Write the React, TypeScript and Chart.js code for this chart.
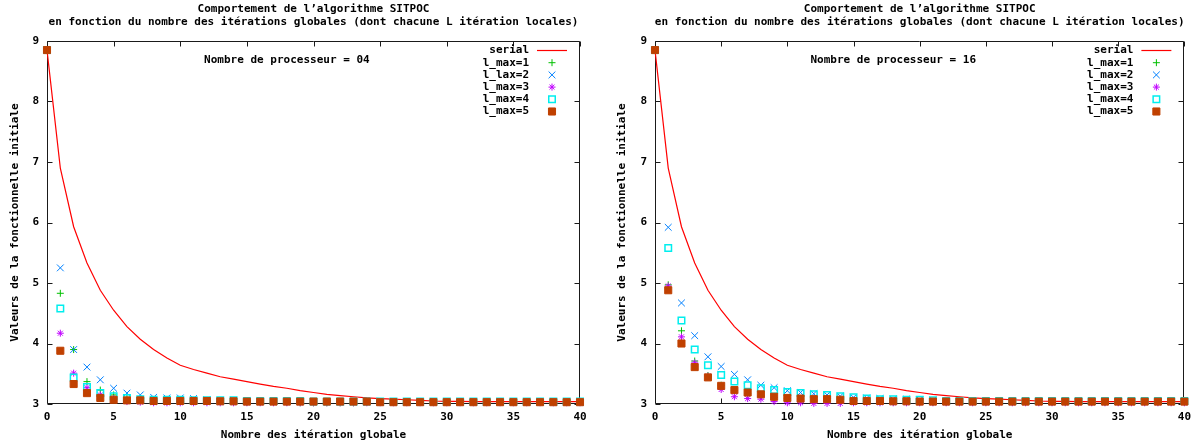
import React, { useEffect, useRef } from 'react';
import { Chart, registerables } from 'chart.js';
import { drawPoint } from 'chart.js/helpers';

Chart.register(...registerables);

const FONT_FAMILY = '"DejaVu Sans Mono", "Liberation Mono", monospace';

const iterations = [
  0, 1, 2, 3, 4, 5, 6, 7, 8, 9, 10, 11, 12, 13, 14, 15, 16, 17, 18, 19, 20,
  21, 22, 23, 24, 25, 26, 27, 28, 29, 30, 31, 32, 33, 34, 35, 36, 37, 38, 39, 40,
];

const serial = [
  8.85, 6.9, 5.93, 5.33, 4.88, 4.55, 4.28, 4.07, 3.9, 3.76, 3.64, 3.57, 3.51, 3.45, 3.41, 3.37,
  3.33, 3.29, 3.26, 3.22, 3.19, 3.16, 3.14, 3.12, 3.1, 3.09, 3.08, 3.07, 3.06, 3.05, 3.045,
  3.045, 3.04, 3.04, 3.04, 3.04, 3.04, 3.04, 3.04, 3.04, 3.04,
];

// Nombre de processeur = 04
const p04_lmax1 = [
  8.85, 4.83, 3.9, 3.37, 3.23, 3.15, 3.1, 3.08, 3.07, 3.06, 3.05, 3.05, 3.04, 3.04, 3.04, 3.03,
  3.03, 3.03, 3.03, 3.02, 3.02, 3.02, 3.02, 3.02, 3.03, 3.03, 3.03, 3.03, 3.03, 3.03, 3.03,
  3.03, 3.03, 3.03, 3.03, 3.03, 3.03, 3.03, 3.03, 3.03, 3.03,
];
const p04_lmax2 = [
  8.85, 5.25, 3.9, 3.61, 3.4, 3.26, 3.18, 3.15, 3.11, 3.1, 3.1, 3.09, 3.07, 3.06, 3.06, 3.05,
  3.05, 3.05, 3.04, 3.04, 3.04, 3.04, 3.035, 3.035, 3.035, 3.035, 3.035, 3.035, 3.035, 3.035,
  3.035, 3.035, 3.035, 3.035, 3.035, 3.035, 3.035, 3.035, 3.035, 3.035, 3.035,
];
const p04_lmax3 = [
  8.85, 4.17, 3.51, 3.27, 3.15, 3.09, 3.04, 3.03, 3.02, 3.02, 3.02, 3.02, 3.02, 3.02, 3.02, 3.02,
  3.02, 3.02, 3.02, 3.02, 3.02, 3.02, 3.02, 3.02, 3.02, 3.02, 3.02, 3.02, 3.02, 3.02, 3.02,
  3.02, 3.02, 3.02, 3.02, 3.02, 3.02, 3.02, 3.02, 3.02, 3.02,
];
const p04_lmax4 = [
  8.85, 4.58, 3.44, 3.28, 3.18, 3.13, 3.1, 3.08, 3.07, 3.07, 3.07, 3.06, 3.06, 3.06, 3.06, 3.05,
  3.05, 3.05, 3.05, 3.05, 3.04, 3.04, 3.04, 3.04, 3.04, 3.04, 3.04, 3.04, 3.04, 3.04, 3.04,
  3.04, 3.04, 3.04, 3.04, 3.04, 3.04, 3.04, 3.04, 3.04, 3.04,
];
const p04_lmax5 = [
  8.85, 3.88, 3.33, 3.18, 3.1, 3.07, 3.06, 3.06, 3.05, 3.05, 3.05, 3.05, 3.05, 3.045, 3.045, 3.04,
  3.04, 3.04, 3.04, 3.04, 3.04, 3.04, 3.04, 3.04, 3.04, 3.03, 3.03, 3.03, 3.03, 3.03, 3.03,
  3.03, 3.03, 3.03, 3.03, 3.03, 3.03, 3.03, 3.03, 3.03, 3.03,
];

// Nombre de processeur = 16
const p16_lmax1 = [
  8.85, 4.97, 4.21, 3.71, 3.47, 3.31, 3.22, 3.17, 3.13, 3.11, 3.09, 3.08, 3.07, 3.06, 3.04, 3.035,
  3.035, 3.035, 3.035, 3.035, 3.03, 3.03, 3.03, 3.03, 3.03, 3.03, 3.03, 3.03, 3.03, 3.03, 3.03,
  3.03, 3.03, 3.03, 3.03, 3.03, 3.03, 3.03, 3.03, 3.03, 3.03,
];
const p16_lmax2 = [
  8.85, 5.92, 4.67, 4.13, 3.78, 3.62, 3.49, 3.4, 3.31, 3.27, 3.22, 3.19, 3.17, 3.15, 3.13, 3.11,
  3.1, 3.09, 3.08, 3.08, 3.07, 3.06, 3.055, 3.05, 3.05, 3.045, 3.04, 3.04, 3.04, 3.04, 3.04,
  3.04, 3.04, 3.04, 3.04, 3.04, 3.04, 3.04, 3.04, 3.04, 3.04,
];
const p16_lmax3 = [
  8.85, 4.95, 4.11, 3.68, 3.46, 3.24, 3.12, 3.09, 3.08, 3.04, 3.02, 3.02, 3.01, 3.01, 3.01, 3.02,
  3.02, 3.02, 3.02, 3.02, 3.02, 3.02, 3.02, 3.02, 3.02, 3.02, 3.02, 3.02, 3.02, 3.02, 3.02,
  3.02, 3.02, 3.02, 3.02, 3.02, 3.02, 3.02, 3.02, 3.02, 3.02,
];
const p16_lmax4 = [
  8.85, 5.58, 4.38, 3.9, 3.64, 3.48, 3.37, 3.31, 3.26, 3.23, 3.2, 3.18, 3.16, 3.15, 3.13, 3.11,
  3.09, 3.08, 3.08, 3.07, 3.07, 3.06, 3.05, 3.05, 3.05, 3.05, 3.05, 3.05, 3.05, 3.05, 3.05,
  3.05, 3.05, 3.05, 3.05, 3.05, 3.05, 3.05, 3.05, 3.05, 3.05,
];
const p16_lmax5 = [
  8.85, 4.88, 4.0, 3.61, 3.44, 3.3, 3.23, 3.19, 3.16, 3.12, 3.1, 3.09, 3.08, 3.08, 3.07, 3.05,
  3.05, 3.05, 3.045, 3.045, 3.04, 3.04, 3.04, 3.04, 3.04, 3.04, 3.04, 3.04, 3.04, 3.04, 3.04,
  3.04, 3.04, 3.04, 3.04, 3.04, 3.04, 3.04, 3.04, 3.04, 3.04,
];

const titleLines = [
  'Comportement de l’algorithme SITPOC',
  'en fonction du nombre des itérations globales (dont chacune L itération locales)',
];
const xAxisTitle = 'Nombre des itération globale';
const yAxisTitle = 'Valeurs de la fonctionnelle initiale';
const labels04 = ['serial', 'l_max=1', 'l_lax=2', 'l_max=3', 'l_max=4', 'l_max=5'];
const labels16 = ['serial', 'l_max=1', 'l_max=2', 'l_max=3', 'l_max=4', 'l_max=5'];
const note04 = 'Nombre de processeur = 04';
const note16 = 'Nombre de processeur = 16';

const X_MIN = 0;
const X_MAX = 40;
const X_STEP = 5;
const Y_MIN = 3;
const Y_MAX = 9;
const Y_STEP = 1;
const NOTE_X = 18;

const COLORS = ['#ff0000', '#00c000', '#0080ff', '#c000ff', '#00eeee', '#c04000'];

const toPoints = (vals: number[]) => vals.map((v, i) => ({ x: iterations[i], y: v }));

const decorPlugin = {
  id: 'gnuplotDecor',
  beforeDatasetsDraw(chart: any) {
    const { ctx, chartArea } = chart;
    const { left, right, top, bottom } = chartArea;
    const xs = chart.scales.x;
    const ys = chart.scales.y;
    ctx.save();
    ctx.strokeStyle = '#1a1a1a';
    ctx.lineWidth = 1;
    const L = Math.round(left) + 0.5;
    const R = Math.round(right) - 0.5;
    const T = Math.round(top) + 0.5;
    const B = Math.round(bottom) - 0.5;
    ctx.beginPath();
    ctx.rect(L, T, R - L, B - T);
    const TL = 5;
    xs.ticks.forEach((t: any) => {
      const px = Math.round(xs.getPixelForValue(t.value)) + 0.5;
      ctx.moveTo(px, B);
      ctx.lineTo(px, B - TL);
      ctx.moveTo(px, T);
      ctx.lineTo(px, T + TL);
    });
    ys.ticks.forEach((t: any) => {
      const py = Math.round(ys.getPixelForValue(t.value)) + 0.5;
      ctx.moveTo(L, py);
      ctx.lineTo(L + TL, py);
      ctx.moveTo(R, py);
      ctx.lineTo(R - TL, py);
    });
    ctx.stroke();
    ctx.restore();
  },
  afterDatasetsDraw(chart: any, _args: any, opts: any) {
    const { ctx, chartArea } = chart;
    const { left, right } = chartArea;
    const xs = chart.scales.x;
    ctx.save();
    ctx.fillStyle = '#000';
    ctx.font = `bold 11px ${FONT_FAMILY}`;
    ctx.textBaseline = 'middle';
    ctx.textAlign = 'center';
    const cx = (left + right) / 2;
    ctx.fillText(titleLines[0], cx, 9);
    ctx.fillText(titleLines[1], cx, 22);
    ctx.fillText(opts.note, xs.getPixelForValue(NOTE_X), 60);

    // legend
    const rowY0 = 50.5;
    const rowH = 12.2;
    chart.data.datasets.forEach((ds: any, i: number) => {
      const y = rowY0 + rowH * i;
      ctx.fillStyle = '#000';
      ctx.textAlign = 'right';
      ctx.fillText(ds.label, right - 51, y);
      if (ds.showLine) {
        ctx.strokeStyle = COLORS[0];
        ctx.lineWidth = 1.2;
        ctx.beginPath();
        ctx.moveTo(right - 43, y);
        ctx.lineTo(right - 13, y);
        ctx.stroke();
      } else {
        ctx.strokeStyle = ds.borderColor;
        ctx.fillStyle = ds.backgroundColor;
        ctx.lineWidth = ds.borderWidth;
        drawPoint(
          ctx,
          { pointStyle: ds.pointStyle, radius: ds.pointRadius, rotation: 0, borderWidth: ds.borderWidth },
          right - 28,
          y,
        );
      }
    });
    ctx.restore();
  },
};

type PanelProps = {
  axisWidth: number;
  padRight: number;
  yTitlePad: number;
  labels: string[];
  note: string;
  series: number[][];
};

function Panel({ axisWidth, padRight, yTitlePad, labels, note, series }: PanelProps) {
  const ref = useRef<HTMLCanvasElement | null>(null);
  useEffect(() => {
    if (!ref.current) return;
    const tickFont = { family: FONT_FAMILY, size: 11, weight: 'bold' as const };
    const scatterStyle = [
      { pointStyle: 'cross', pointRadius: 3.5, borderWidth: 1, backgroundColor: 'rgba(0,0,0,0)' },
      { pointStyle: 'crossRot', pointRadius: 4.8, borderWidth: 1, backgroundColor: 'rgba(0,0,0,0)' },
      { pointStyle: 'star', pointRadius: 3.5, borderWidth: 1, backgroundColor: 'rgba(0,0,0,0)' },
      { pointStyle: 'rect', pointRadius: 4.6, borderWidth: 1.5, backgroundColor: 'rgba(255,255,255,0)' },
      { pointStyle: 'rect', pointRadius: 5, borderWidth: 1, backgroundColor: COLORS[5] },
    ];
    const datasets: any[] = [
      {
        label: labels[0],
        data: toPoints(series[0]),
        borderColor: COLORS[0],
        backgroundColor: COLORS[0],
        borderWidth: 1.2,
        pointRadius: 0,
        showLine: true,
        tension: 0,
        order: 6,
        clip: false,
      },
    ];
    for (let k = 1; k <= 5; k++) {
      const st = scatterStyle[k - 1];
      datasets.push({
        label: labels[k],
        data: toPoints(series[k]),
        borderColor: COLORS[k],
        pointBorderColor: COLORS[k],
        pointBackgroundColor: st.backgroundColor,
        backgroundColor: st.backgroundColor,
        pointStyle: st.pointStyle,
        pointRadius: st.pointRadius,
        pointBorderWidth: st.borderWidth,
        borderWidth: st.borderWidth,
        showLine: false,
        order: 6 - k,
        clip: false,
      });
    }
    const chart = new Chart(ref.current, {
      type: 'line',
      data: { datasets },
      plugins: [decorPlugin],
      options: {
        animation: false,
        responsive: false,
        devicePixelRatio: 1,
        layout: { padding: { top: 41, right: padRight, bottom: 0, left: 0 } },
        plugins: {
          legend: { display: false },
          tooltip: { enabled: false },
          title: { display: false },
          gnuplotDecor: { note },
        } as any,
        scales: {
          x: {
            type: 'linear',
            min: X_MIN,
            max: X_MAX,
            grid: { display: false, drawTicks: false },
            border: { display: false },
            ticks: { stepSize: X_STEP, color: '#000', font: tickFont, padding: 7, maxRotation: 0 },
            title: { display: true, text: xAxisTitle, color: '#000', font: tickFont, padding: { top: 0, bottom: 4 } },
            afterFit: (s: any) => {
              s.height = 42;
            },
          },
          y: {
            type: 'linear',
            min: Y_MIN,
            max: Y_MAX,
            grid: { display: false, drawTicks: false },
            border: { display: false },
            ticks: { stepSize: Y_STEP, color: '#000', font: tickFont, padding: 8 },
            title: { display: true, text: yAxisTitle, color: '#000', font: tickFont, padding: { top: yTitlePad, bottom: 0 } },
            afterFit: (s: any) => {
              s.width = axisWidth;
            },
          },
        },
      } as any,
    });
    return () => chart.destroy();
  }, []);
  return <canvas ref={ref} width={599} height={446} style={{ width: 599, height: 446, display: 'block' }} />;
}

export default function App() {
  return (
    <div
      style={{
        position: 'absolute',
        left: 0,
        top: 0,
        width: 1198,
        height: 446,
        background: '#fff',
        display: 'flex',
      }}
    >
      <Panel
        axisWidth={47}
        padRight={19}
        yTitlePad={9}
        labels={labels04}
        note={note04}
        series={[serial, p04_lmax1, p04_lmax2, p04_lmax3, p04_lmax4, p04_lmax5]}
      />
      <Panel
        axisWidth={56}
        padRight={11}
        yTitlePad={17}
        labels={labels16}
        note={note16}
        series={[serial, p16_lmax1, p16_lmax2, p16_lmax3, p16_lmax4, p16_lmax5]}
      />
    </div>
  );
}
